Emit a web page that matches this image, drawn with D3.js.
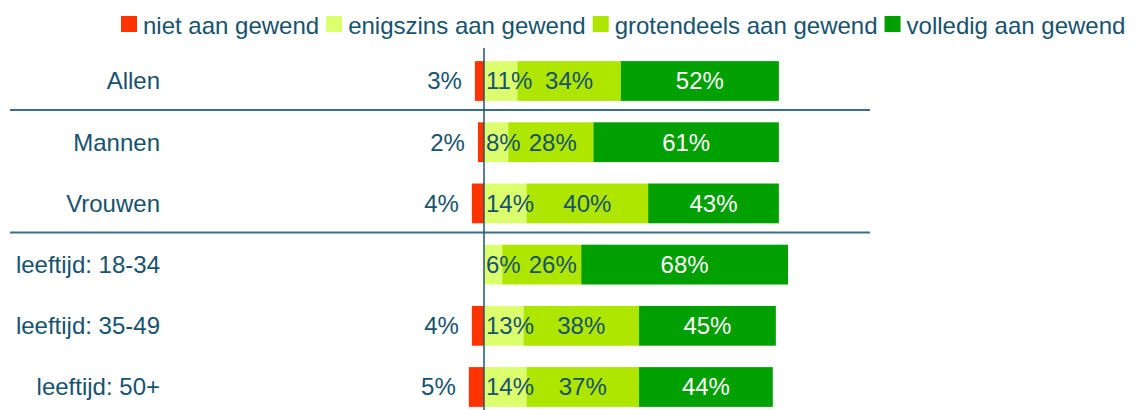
<!DOCTYPE html>
<html>
<head>
<meta charset="utf-8">
<script src="https://cdn.jsdelivr.net/npm/d3@7"></script>
<style>
  body { margin: 0; background: #fff; }
  text { font-family: "Liberation Sans", Arial, sans-serif; }
</style>
</head>
<body>
<svg id="chart" width="1137" height="410"></svg>
<script>
"use strict";
var categories = ["Allen", "Mannen", "Vrouwen", "leeftijd: 18-34", "leeftijd: 35-49", "leeftijd: 50+"];
var seriesNames = ["niet aan gewend", "enigszins aan gewend", "grotendeels aan gewend", "volledig aan gewend"];
var nietValues = [3, 2, 4, 0, 4, 5];
var enigszinsValues = [11, 8, 14, 6, 13, 14];
var grotendeelsValues = [34, 28, 40, 26, 38, 37];
var volledigValues = [52, 61, 43, 68, 45, 44];
var groupStarts = ["Mannen", "leeftijd: 18-34"]; // separator lines above these rows

var colors = ["#ff3300", "#dcff6e", "#aee600", "#00a000"];
var textColor = "#17526e";
var fontSize = 24;

document.addEventListener("DOMContentLoaded", function () {
    var svg = d3.select("#chart");

    var x = d3.scaleLinear().domain([0, 100]).range([484, 788]);
    var y = d3.scaleBand()
        .domain(categories)
        .range([50.4, 417.6])
        .paddingInner(0.35)
        .paddingOuter(0.175);

    // negative part left of zero, positive parts stacked to the right
    var segments = [];
    categories.forEach(function (cat, i) {
        segments.push({ cat: cat, s: 0, v: nietValues[i], x0: -nietValues[i], x1: 0 });
        var acc = 0;
        [enigszinsValues, grotendeelsValues, volledigValues].forEach(function (arr, k) {
            segments.push({ cat: cat, s: k + 1, v: arr[i], x0: acc, x1: acc + arr[i] });
            acc += arr[i];
        });
    });
    var shown = segments.filter(function (d) { return d.v > 0; });

    svg.selectAll("line.sep")
        .data(groupStarts)
        .enter()
        .append("line")
        .attr("class", "sep")
        .attr("x1", 10)
        .attr("x2", 870)
        .attr("y1", function (d) { return y(d) - y.step() * 0.2; })
        .attr("y2", function (d) { return y(d) - y.step() * 0.2; })
        .attr("stroke", "#3b6f86")
        .attr("stroke-width", 2);

    svg.selectAll("rect.bar")
        .data(shown)
        .enter()
        .append("rect")
        .attr("class", "bar")
        .attr("x", function (d) { return x(d.x0); })
        .attr("width", function (d) { return x(d.x1) - x(d.x0); })
        .attr("y", function (d) { return y(d.cat); })
        .attr("height", y.bandwidth())
        .attr("fill", function (d) { return colors[d.s]; });

    // zero line
    svg.append("line")
        .attr("x1", x(0)).attr("x2", x(0))
        .attr("y1", 48).attr("y2", 410)
        .attr("stroke", "#1f5672")
        .attr("stroke-width", 1.5);

    svg.selectAll("text.cat")
        .data(categories)
        .enter()
        .append("text")
        .attr("class", "cat")
        .attr("x", 160)
        .attr("y", function (d) { return y(d) + y.bandwidth() / 2; })
        .attr("dy", "0.35em")
        .attr("text-anchor", "end")
        .attr("font-size", fontSize)
        .attr("fill", textColor)
        .text(function (d) { return d; });

    var labels = svg.selectAll("text.val")
        .data(shown)
        .enter()
        .append("text")
        .attr("class", "val")
        .attr("y", function (d) { return y(d.cat) + y.bandwidth() / 2; })
        .attr("dy", "0.35em")
        .attr("font-size", fontSize)
        .attr("fill", function (d) { return d.s === 3 ? "#ffffff" : textColor; })
        .text(function (d) { return d.v + "%"; });

    // centre labels, push right when they'd overlap the zero line or the previous label
    var prevEnd = {};
    labels.each(function (d) {
        var el = d3.select(this);
        if (d.s === 0) {
            el.attr("text-anchor", "end").attr("x", x(d.x0) - 13);
            return;
        }
        var w = this.getComputedTextLength();
        var cx = (x(d.x0) + x(d.x1)) / 2;
        cx = Math.max(cx, x(d.x0) + 2 + w / 2);
        if (prevEnd[d.cat] !== undefined) cx = Math.max(cx, prevEnd[d.cat] + 8 + w / 2);
        prevEnd[d.cat] = cx + w / 2;
        el.attr("text-anchor", "middle").attr("x", cx);
    });

    // legend
    var lx = 121;
    seriesNames.forEach(function (name, i) {
        svg.append("rect")
            .attr("x", lx).attr("y", 16)
            .attr("width", 16).attr("height", 16)
            .attr("fill", colors[i]);
        var t = svg.append("text")
            .attr("x", lx + 22).attr("y", 34)
            .attr("font-size", fontSize)
            .attr("fill", textColor)
            .text(name);
        lx += 22 + t.node().getComputedTextLength() + 7;
    });
});
</script>
</body>
</html>
